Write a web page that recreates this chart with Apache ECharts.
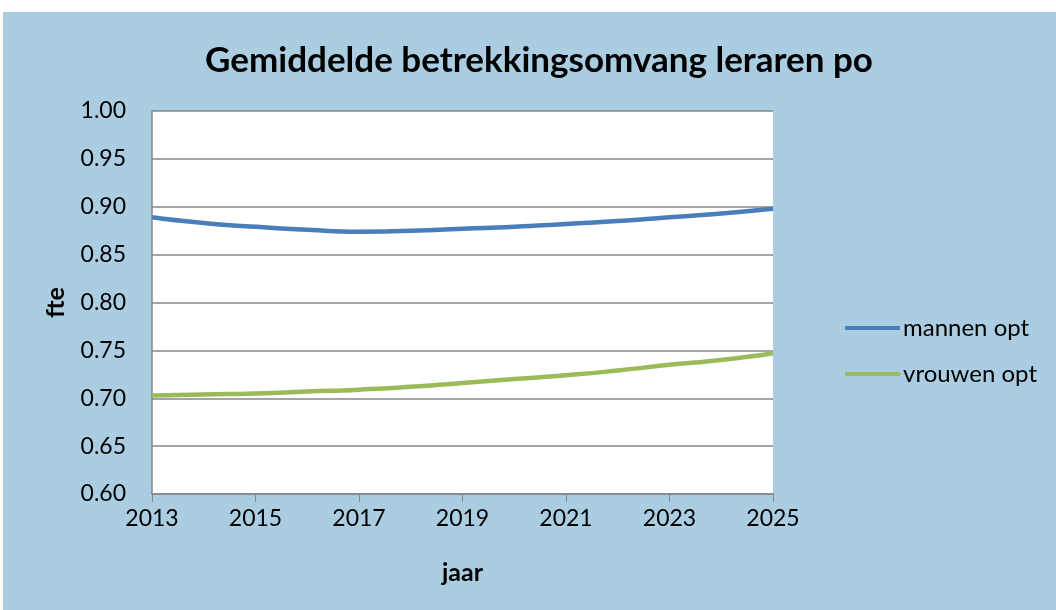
<!DOCTYPE html>
<html>
<head>
<meta charset="utf-8">
<script src="https://cdn.jsdelivr.net/npm/echarts@6/dist/echarts.min.js"></script>
<style>
  html, body { margin: 0; padding: 0; background: #fff; }
  #chart { width: 1056px; height: 610px; }
</style>
</head>
<body>
<div id="chart"></div>
<script>
  var years = ['2013', '2014', '2015', '2016', '2017', '2018', '2019', '2020', '2021', '2022', '2023', '2024', '2025']
  var mannen = [0.889, 0.883, 0.879, 0.876, 0.874, 0.875, 0.877, 0.879, 0.882, 0.885, 0.889, 0.893, 0.898]
  var vrouwen = [0.703, 0.704, 0.705, 0.707, 0.709, 0.712, 0.716, 0.720, 0.724, 0.729, 0.735, 0.740, 0.747]

  var font = 'Lato, "Open Sans", sans-serif'
  var chart = echarts.init(document.getElementById('chart'))
  chart.setOption({
    animation: false,
    textStyle: { fontFamily: font },
    graphic: [{
      type: 'rect',
      z: -10,
      shape: { x: 3, y: 12, width: 1053, height: 598 },
      style: { fill: '#aacde2' }
    }],
    title: {
      text: 'Gemiddelde betrekkingsomvang leraren po',
      left: 534,
      textAlign: 'center',
      top: 38,
      textStyle: { fontFamily: font, fontSize: 35, fontWeight: 'bold', color: '#000' }
    },
    legend: {
      orient: 'vertical',
      left: 840,
      top: 311,
      itemGap: 22,
      itemWidth: 55,
      itemHeight: 4,
      icon: 'roundRect',
      textStyle: { fontFamily: font, fontSize: 24, color: '#000', padding: [0, 0, 0, -2] },
      data: ['mannen opt', 'vrouwen opt']
    },
    grid: { left: 152, right: 283, top: 111, bottom: 116, backgroundColor: '#fff', show: true, borderWidth: 0 },
    xAxis: {
      type: 'category',
      boundaryGap: false,
      data: years,
      name: 'jaar',
      nameLocation: 'middle',
      nameGap: 66,
      nameTextStyle: { fontFamily: font, fontSize: 25, fontWeight: 'bold', color: '#000' },
      axisLine: { lineStyle: { color: '#868686', width: 1.5 } },
      axisTick: { interval: 1, length: 8, lineStyle: { color: '#868686' } },
      axisLabel: { interval: 1, fontSize: 23, color: '#000', margin: 13 },
      splitLine: { show: false }
    },
    yAxis: {
      type: 'value',
      min: 0.6,
      max: 1.0,
      interval: 0.05,
      name: 'fte',
      nameLocation: 'middle',
      nameGap: 84,
      nameRotate: 90,
      nameTextStyle: { fontFamily: font, fontSize: 25, fontWeight: 'bold', color: '#000' },
      axisLine: { show: true, lineStyle: { color: '#868686', width: 1.5 } },
      axisTick: { show: false },
      axisLabel: { fontSize: 23, color: '#000', margin: 26, formatter: function (v) { return v.toFixed(2) } },
      splitLine: { lineStyle: { color: '#868686', width: 1.5 } }
    },
    series: [
      {
        name: 'mannen opt',
        type: 'line',
        smooth: 0.6,
        symbol: 'none',
        data: mannen,
        itemStyle: { color: '#4a7ebb' },
        lineStyle: { color: '#4a7ebb', width: 4.5 }
      },
      {
        name: 'vrouwen opt',
        type: 'line',
        smooth: 0.6,
        symbol: 'none',
        data: vrouwen,
        itemStyle: { color: '#9bbb59' },
        lineStyle: { color: '#9bbb59', width: 4.5 }
      }
    ]
  })
</script>
</body>
</html>
